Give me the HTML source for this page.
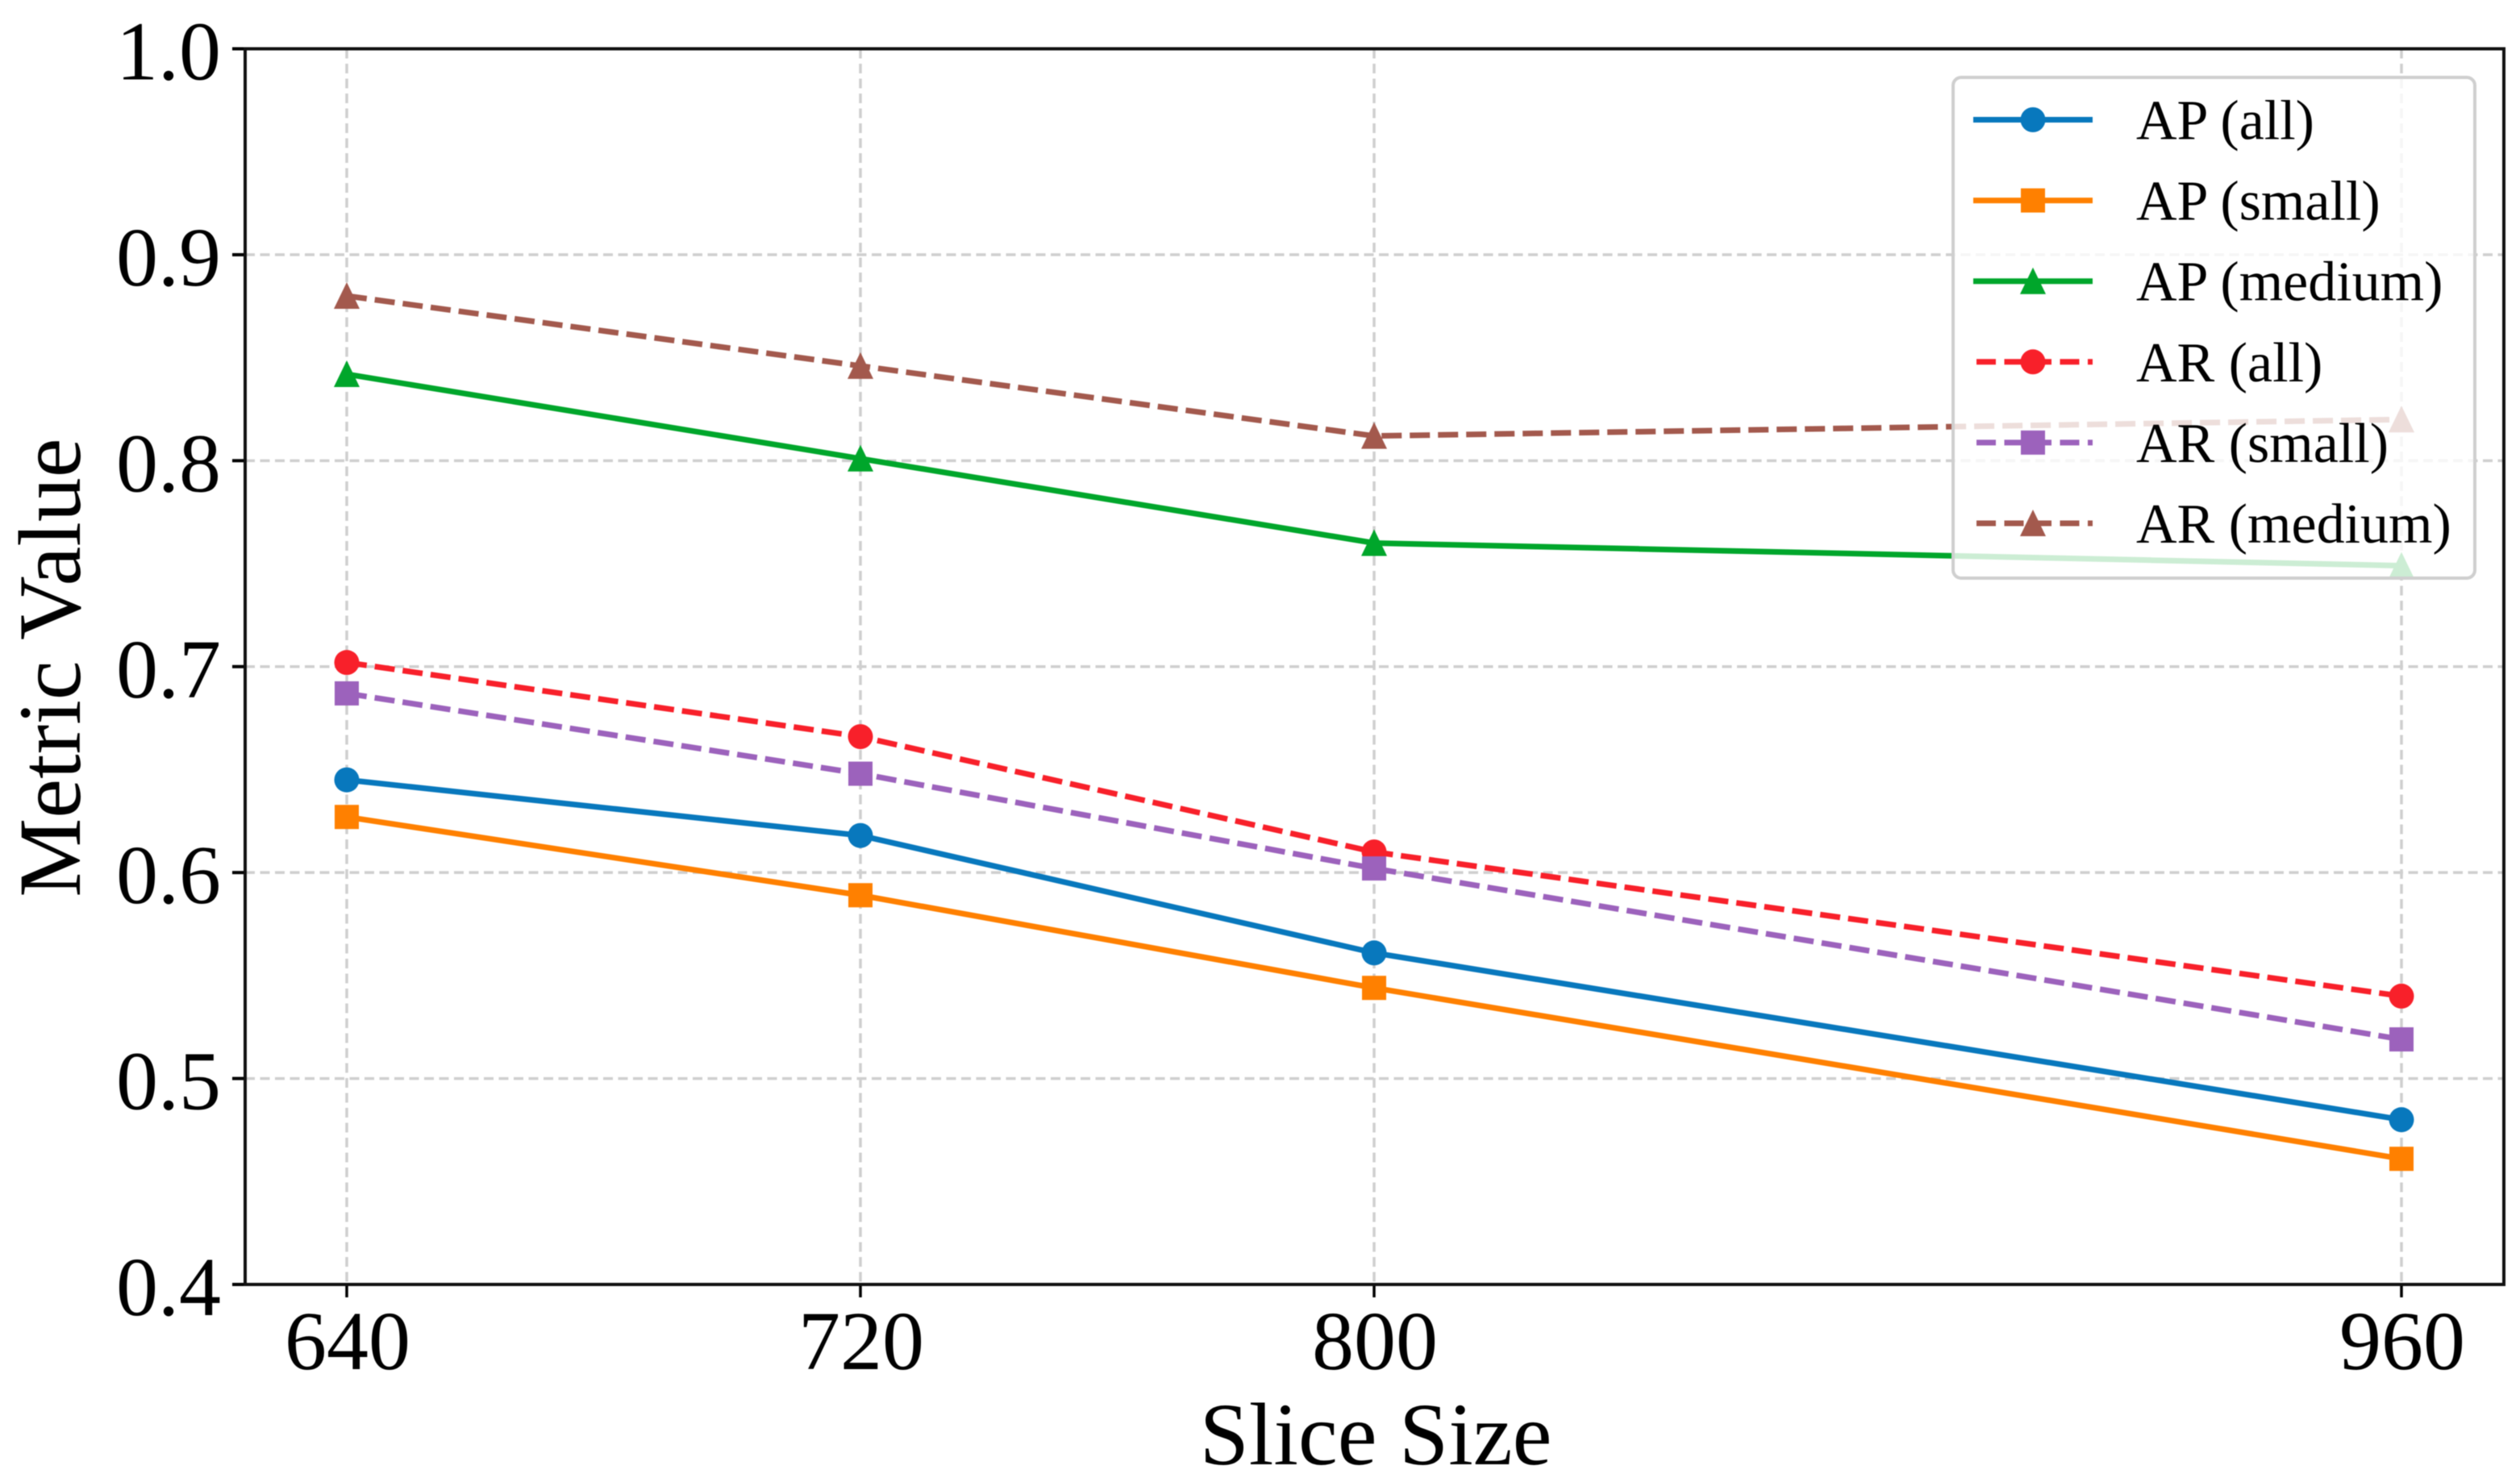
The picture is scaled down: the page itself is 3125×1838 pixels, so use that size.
<!DOCTYPE html>
<html lang="en">
<head>
<meta charset="utf-8">
<title>Metric Value vs Slice Size</title>
<style>
html,body{margin:0;padding:0;background:#fff;}
body{width:3125px;height:1838px;overflow:hidden;}
svg{display:block;font-family:"Liberation Serif",serif;fill:#000;filter:blur(0.6px);}
</style>
</head>
<body>
<svg id="chart" width="3125" height="1838" viewBox="0 0 3125 1838" xmlns="http://www.w3.org/2000/svg">
  <g id="grid"></g>
  <g id="series"></g>
  <g id="axes"></g>
  <g id="legend">
    <rect x="2422" y="96" width="647" height="621" rx="10" ry="10" fill="#fff" fill-opacity="0.8" stroke="#cfcfcf" stroke-width="4"></rect>
  </g>
  <text x="1706" y="1816" font-size="110" text-anchor="middle">Slice Size</text>
  <text x="0" y="0" font-size="110" text-anchor="middle" transform="translate(99 828) rotate(-90)">Metric Value</text>
</svg>
<script>
const sliceSizes = [640, 720, 800, 960];
const xTickLabels = ["640", "720", "800", "960"];
const yTickValues = [0.4, 0.5, 0.6, 0.7, 0.8, 0.9, 1.0];
const yTickLabels = ["0.4", "0.5", "0.6", "0.7", "0.8", "0.9", "1.0"];
const apAll = [0.645, 0.618, 0.561, 0.480];
const apSmall = [0.627, 0.589, 0.544, 0.461];
const apMedium = [0.842, 0.801, 0.760, 0.749];
const arAll = [0.702, 0.666, 0.610, 0.540];
const arSmall = [0.687, 0.648, 0.602, 0.519];
const arMedium = [0.880, 0.846, 0.812, 0.820];

const NS = 'http://www.w3.org/2000/svg';
const plotLeft = 304, plotRight = 3105, plotTop = 60.5, plotBottom = 1593;
const xAxis = v => 430 + (v - 640) * (2978 - 430) / 320;
const yAxis = v => plotBottom - (v - 0.4) * (plotBottom - plotTop) / 0.6;

const seriesList = [
  {name: 'ap-all', label: 'AP (all)', values: apAll, color: '#0878bd', marker: 'circle', dashed: false},
  {name: 'ap-small', label: 'AP (small)', values: apSmall, color: '#ff8000', marker: 'square', dashed: false},
  {name: 'ap-medium', label: 'AP (medium)', values: apMedium, color: '#00a62b', marker: 'triangle', dashed: false},
  {name: 'ar-all', label: 'AR (all)', values: arAll, color: '#f8202a', marker: 'circle', dashed: true},
  {name: 'ar-small', label: 'AR (small)', values: arSmall, color: '#9c62bc', marker: 'square', dashed: true},
  {name: 'ar-medium', label: 'AR (medium)', values: arMedium, color: '#a3594d', marker: 'triangle', dashed: true}
];

function mk(tag, parent, attrs) {
  const el = document.createElementNS(NS, tag);
  for (const k in attrs) el.setAttribute(k, attrs[k]);
  parent.appendChild(el);
  return el;
}
function drawMarker(parent, kind, cx, cy, color) {
  let el;
  if (kind === 'circle') {
    el = mk('circle', parent, {cx: cx, cy: cy, r: 15.5, fill: color});
  } else if (kind === 'square') {
    el = mk('rect', parent, {x: cx - 15, y: cy - 15, width: 30, height: 30, fill: color});
  } else {
    el = mk('polygon', parent, {points: (cx) + ',' + (cy - 17) + ' ' + (cx + 16) + ',' + (cy + 16) + ' ' + (cx - 16) + ',' + (cy + 16), fill: color});
  }
  return el;
}

const gridG = document.getElementById('grid');
const axesG = document.getElementById('axes');
const seriesG = document.getElementById('series');
const legendG = document.getElementById('legend');

sliceSizes.forEach((s, i) => {
  const x = xAxis(s);
  const gl = mk('line', gridG, {x1: x, x2: x, y1: plotTop, y2: plotBottom, stroke: '#cfcfcf', 'stroke-width': 3.5, 'stroke-dasharray': '12 6.5'});
  
  
  const t = mk('line', axesG, {x1: x, x2: x, y1: plotBottom, y2: 1609, stroke: '#000', 'stroke-width': 3.5});
  
  
  const lb = mk('text', axesG, {x: x + 1, y: 1698, 'font-size': 104, 'text-anchor': 'middle'});
  lb.textContent = xTickLabels[i];
  
  
});

yTickValues.forEach((v, i) => {
  const y = yAxis(v);
  if (v > 0.4 && v < 1.0) {
    const gl = mk('line', gridG, {x1: plotLeft, x2: plotRight, y1: y, y2: y, stroke: '#cfcfcf', 'stroke-width': 3.5, 'stroke-dasharray': '12 6.5'});
    
    
  }
  const t = mk('line', axesG, {x1: 288, x2: plotLeft, y1: y, y2: y, stroke: '#000', 'stroke-width': 4});
  
  
  const lb = mk('text', axesG, {x: 274, y: y + 38, 'font-size': 104, 'text-anchor': 'end'});
  lb.textContent = yTickLabels[i];
  
  
});

const frame = mk('rect', axesG, {x: plotLeft, y: plotTop, width: plotRight - plotLeft, height: plotBottom - plotTop, fill: 'none', stroke: '#111', 'stroke-width': 4});



seriesList.forEach(s => {
  const g = mk('g', seriesG, {});
  
  
  const pts = s.values.map((v, i) => xAxis(sliceSizes[i]) + ',' + yAxis(v)).join(' ');
  const line = mk('polyline', g, {points: pts, fill: 'none', stroke: s.color, 'stroke-width': 7});
  if (s.dashed) line.setAttribute('stroke-dasharray', '25 10');
  
  
  s.values.forEach((v, i) => {
    const m = drawMarker(g, s.marker, xAxis(sliceSizes[i]), yAxis(v), s.color);
    
    
  });
});

seriesList.forEach((s, i) => {
  const cy = 148.5 + i * 100.1;
  const g = mk('g', legendG, {});
  
  
  const hl = mk('line', g, {x1: s.dashed ? 2451 : 2447, x2: 2595, y1: cy, y2: cy, stroke: s.color, 'stroke-width': 7});
  if (s.dashed) hl.setAttribute('stroke-dasharray', '24 10.5');
  
  
  const m = drawMarker(g, s.marker, 2521, cy, s.color);
  
  
  const t = mk('text', g, {x: 2649, y: cy + 24, 'font-size': 70});
  t.textContent = s.label;
  
  
});
</script>
</body>
</html>
